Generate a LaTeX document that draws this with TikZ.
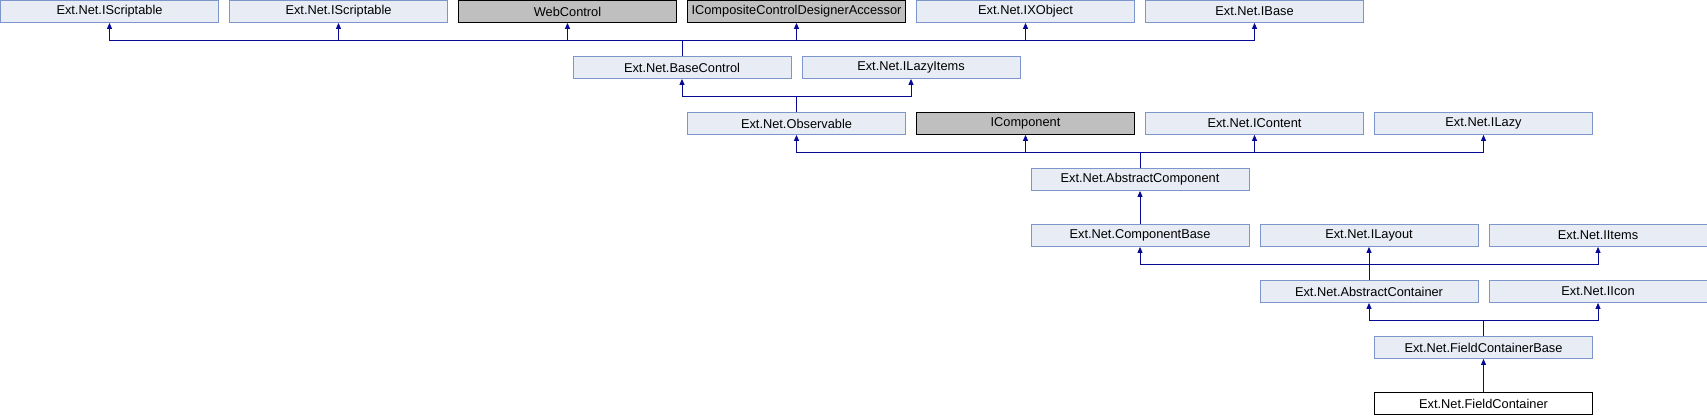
\documentclass[tikz,border=0pt]{standalone}
\usepackage{fontspec}
\setmainfont{Liberation Sans}
\usepackage{xcolor}
\definecolor{dxfill}{RGB}{232,236,245}
\definecolor{dxdraw}{RGB}{124,149,202}
\definecolor{dxgray}{RGB}{191,191,191}
\definecolor{dxline}{RGB}{8,8,150}
\usepackage{tikz}
\usetikzlibrary{arrows.meta}

\begin{document}
\begin{tikzpicture}[x=1pt, y=-1pt,
  cls/.style={draw=dxdraw, line width=0.8pt, fill=dxfill, minimum width=218pt,
    minimum height=22pt, inner sep=0pt, font=\fontsize{12.8}{14}\selectfont},
  ext/.style={cls, draw=black, fill=dxgray},
  cur/.style={cls, draw=black, fill=white},
  inh/.style={dxline, line width=1pt, -{Triangle[width=5pt,length=6pt]}}]
\useasboundingbox (0,0) rectangle (1707,416);

% Row 0
\node[cls] (iscra) at (109.5,11.5) {Ext.Net.IScriptable};
\node[cls] (iscrb) at (338.5,11.5) {Ext.Net.IScriptable};
\node[ext] (webc)  at (567.5,11.5) {WebControl};
\node[ext] (icomp) at (796.5,11.5) {ICompositeControlDesignerAccessor};
\node[cls] (ixobj) at (1025.5,11.5) {Ext.Net.IXObject};
\node[cls] (ibase) at (1254.5,11.5) {Ext.Net.IBase};

% Row 1
\node[cls] (bctl)  at (682,67.5) {Ext.Net.BaseControl};
\node[cls] (ilzit) at (911,67.5) {Ext.Net.ILazyItems};

% Row 2
\node[cls] (obs)   at (796.5,123.5) {Ext.Net.Observable};
\node[ext] (icmp)  at (1025.5,123.5) {IComponent};
\node[cls] (icont) at (1254.5,123.5) {Ext.Net.IContent};
\node[cls] (ilazy) at (1483.5,123.5) {Ext.Net.ILazy};

% Row 3
\node[cls] (abscmp) at (1140,179.5) {Ext.Net.AbstractComponent};

% Row 4
\node[cls] (cmpb)  at (1140,235.5) {Ext.Net.ComponentBase};
\node[cls] (ilay)  at (1369,235.5) {Ext.Net.ILayout};
\node[cls] (iitem) at (1598,235.5) {Ext.Net.IItems};

% Row 5
\node[cls] (absct) at (1369,291.5) {Ext.Net.AbstractContainer};
\node[cls] (iicon) at (1598,291.5) {Ext.Net.IIcon};

% Row 6 and 7
\node[cls] (fcb) at (1483.5,347.5) {Ext.Net.FieldContainerBase};
\node[cur] (fc)  at (1483.5,403.5) {Ext.Net.FieldContainer};

% Inheritance
\foreach \p in {iscra,iscrb,webc,icomp,ixobj,ibase}
  \draw[inh] (bctl.north) -- ++(0,-16) -| (\p.south);
\foreach \p in {bctl,ilzit}
  \draw[inh] (obs.north) -- ++(0,-16) -| (\p.south);
\foreach \p in {obs,icmp,icont,ilazy}
  \draw[inh] (abscmp.north) -- ++(0,-16) -| (\p.south);
\draw[inh] (cmpb.north) -- (abscmp.south);
\foreach \p in {cmpb,ilay,iitem}
  \draw[inh] (absct.north) -- ++(0,-16) -| (\p.south);
\foreach \p in {absct,iicon}
  \draw[inh] (fcb.north) -- ++(0,-16) -| (\p.south);
\draw[inh] (fc.north) -- (fcb.south);

\end{tikzpicture}
\end{document}
